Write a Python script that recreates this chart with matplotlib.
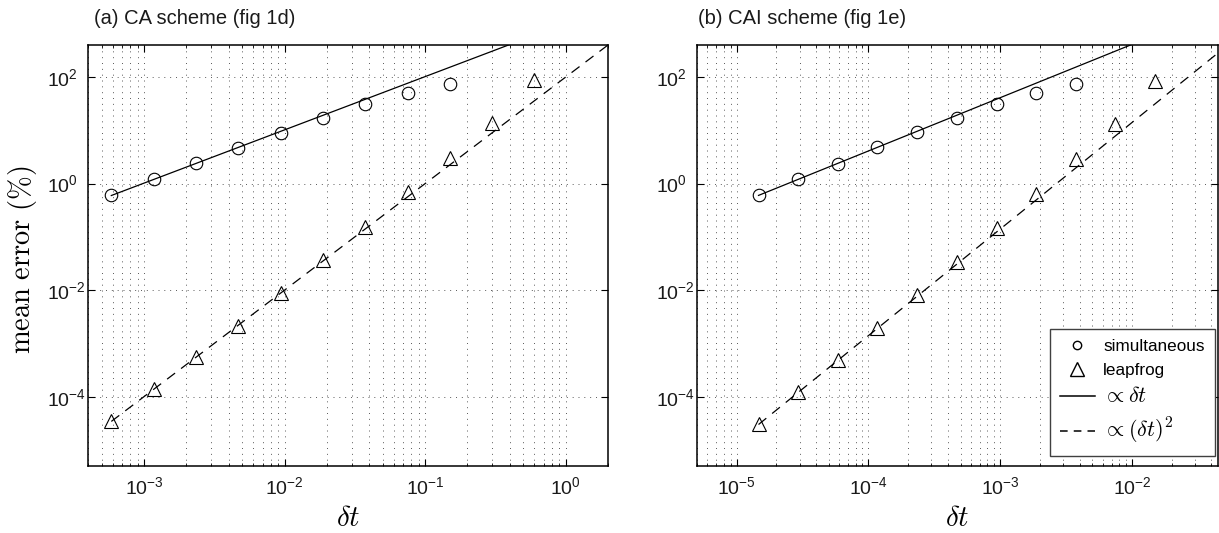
import numpy as np
import matplotlib
matplotlib.use('Agg')
import matplotlib.pyplot as plt
from matplotlib.lines import Line2D
from matplotlib.ticker import FixedLocator, LogLocator, NullLocator

plt.rcParams['font.family'] = ['Liberation Sans', 'DejaVu Sans']

# ---- data ----
# (a) CA scheme
ca_sim_dt = [5.86e-4, 1.17e-3, 2.34e-3, 4.69e-3, 9.38e-3, 0.01875, 0.0375, 0.075, 0.15]
ca_sim_err = [0.6, 1.2, 2.4, 4.7, 9.0, 17, 31, 50, 74]
ca_leap_dt = [5.86e-4, 1.17e-3, 2.34e-3, 4.69e-3, 9.38e-3, 0.01875, 0.0375, 0.075, 0.15, 0.3, 0.6]
ca_leap_err = [3.5e-5, 1.39e-4, 5.6e-4, 2.14e-3, 9.0e-3, 0.037, 0.156, 0.69, 3.0, 14, 90]
ca_fit_dt = [5.86e-4, 2.0]
ca_c1 = 1020     # err ~ c1 * dt
ca_c2 = 100      # err ~ c2 * dt^2

# (b) CAI scheme
cai_sim_dt = [1.465e-5, 2.93e-5, 5.86e-5, 1.17e-4, 2.34e-4, 4.69e-4, 9.38e-4, 1.875e-3, 3.75e-3]
cai_sim_err = [0.61, 1.22, 2.38, 4.8, 9.2, 17.2, 30.7, 50.6, 74]
cai_leap_dt = [1.465e-5, 2.93e-5, 5.86e-5, 1.17e-4, 2.34e-4, 4.69e-4, 9.38e-4, 1.875e-3,
               3.75e-3, 7.5e-3, 0.015]
cai_leap_err = [3.05e-5, 1.22e-4, 4.8e-4, 1.93e-3, 8.1e-3, 0.0344, 0.147, 0.65, 2.86, 13.1, 84]
cai_fit_dt = [1.465e-5, 0.05]
cai_c1 = 4.1e4
cai_c2 = 1.4e5

Y_TICKS = [1e-4, 1e-2, 1e0, 1e2]
YLIM = (5e-6, 400)

DASH = (0, (8, 6))
GRID_LS = (0, (1, 5))


def style_axes(ax, xlim):
    ax.set_xscale('log')
    ax.set_yscale('log')
    ax.set_xlim(*xlim)
    ax.set_ylim(*YLIM)
    ax.xaxis.set_major_locator(LogLocator(base=10, numticks=20))
    ax.xaxis.set_minor_locator(LogLocator(base=10, subs=np.arange(2, 10), numticks=20))
    ax.yaxis.set_major_locator(FixedLocator(Y_TICKS))
    ax.yaxis.set_minor_locator(NullLocator())
    ax.grid(which='major', linestyle=GRID_LS, color='0.35', linewidth=0.7)
    ax.grid(which='minor', axis='x', linestyle=GRID_LS, color='0.35', linewidth=0.7)
    ax.tick_params(which='both', direction='in', top=True, right=True, colors='k')
    ax.tick_params(which='major', length=5, width=0.8, labelsize=14, labelcolor='0.1')
    ax.tick_params(which='minor', length=2.5, width=0.6)
    ax.tick_params(axis='x', pad=7)
    ax.tick_params(axis='y', pad=29.5)
    for t in ax.yaxis.get_major_ticks():
        t.label1.set_horizontalalignment('left')
    for s in ax.spines.values():
        s.set_linewidth(1.1)
    ax.set_axisbelow(True)


def draw_panel(ax, sim_dt, sim_err, leap_dt, leap_err, fit_dt, c1, c2):
    fit_dt = np.array(fit_dt)
    fit_fine = np.logspace(np.log10(fit_dt[0]), np.log10(fit_dt[1]), 50)
    ax.plot(fit_fine, c1 * fit_fine, color='k', linewidth=0.9)
    ax.plot(fit_fine, c2 * fit_fine ** 2, color='k', linewidth=0.9, linestyle=DASH)
    ax.plot(sim_dt, sim_err, linestyle='none', marker='o', markersize=9,
            markerfacecolor='none', markeredgecolor='k', markeredgewidth=0.8)
    ax.plot(leap_dt, leap_err, linestyle='none', marker='^', markersize=10,
            markerfacecolor='none', markeredgecolor='k', markeredgewidth=0.8)


fig = plt.figure(figsize=(12.19, 5.33), dpi=100)
W, H = 1219, 533
ax1 = fig.add_axes([88 / W, 1 - 466 / H, 520 / W, 421 / H])
ax2 = fig.add_axes([697 / W, 1 - 466 / H, 521 / W, 421 / H])

style_axes(ax1, (4e-4, 2.0))
style_axes(ax2, (5e-6, 0.045))

draw_panel(ax1, ca_sim_dt, ca_sim_err, ca_leap_dt, ca_leap_err, ca_fit_dt, ca_c1, ca_c2)
draw_panel(ax2, cai_sim_dt, cai_sim_err, cai_leap_dt, cai_leap_err, cai_fit_dt, cai_c1, cai_c2)

fig.text(94 / W, 1 - 19 / H, '(a) CA scheme (fig 1d)', fontsize=14.5, va='center', ha='left',
         color='0.1')
fig.text(698 / W, 1 - 19 / H, '(b) CAI scheme (fig 1e)', fontsize=14.5, va='center', ha='left',
         color='0.1')

for ax in (ax1, ax2):
    ax.set_xlabel(r'$\delta t$', fontsize=21, math_fontfamily='cm')
    ax.xaxis.set_label_coords(0.5, -0.09)
ax1.set_ylabel(r'$\mathrm{mean\ error\ (\%)}$', fontsize=20.5, math_fontfamily='cm')
ax1.yaxis.set_label_coords(-0.095, 0.49)

handles = [
    Line2D([], [], linestyle='none', marker='o', markersize=6, markerfacecolor='none',
           markeredgecolor='k', markeredgewidth=1.0),
    Line2D([], [], linestyle='none', marker='^', markersize=9.5, markerfacecolor='none',
           markeredgecolor='k', markeredgewidth=1.0),
    Line2D([], [], color='k', linewidth=1.1),
    Line2D([], [], color='k', linewidth=1.1, linestyle=(0, (5, 4))),
]
labels = ['simultaneous', 'leapfrog', r'$\propto\delta t$', r'$\propto(\delta t)^2$']
leg = ax2.legend(handles, labels, loc='lower right', bbox_to_anchor=(0.994, 0.024),
                 borderaxespad=0, fontsize=12.3, fancybox=False, framealpha=1,
                 edgecolor='0.25', handlelength=2.0, handletextpad=0.5,
                 labelspacing=0.5, borderpad=0.6)
leg.get_frame().set_linewidth(1.0)
for txt in leg.get_texts()[2:]:
    txt.set_math_fontfamily('cm')
    txt.set_fontsize(16)

fig.savefig('out.png', dpi=100)
